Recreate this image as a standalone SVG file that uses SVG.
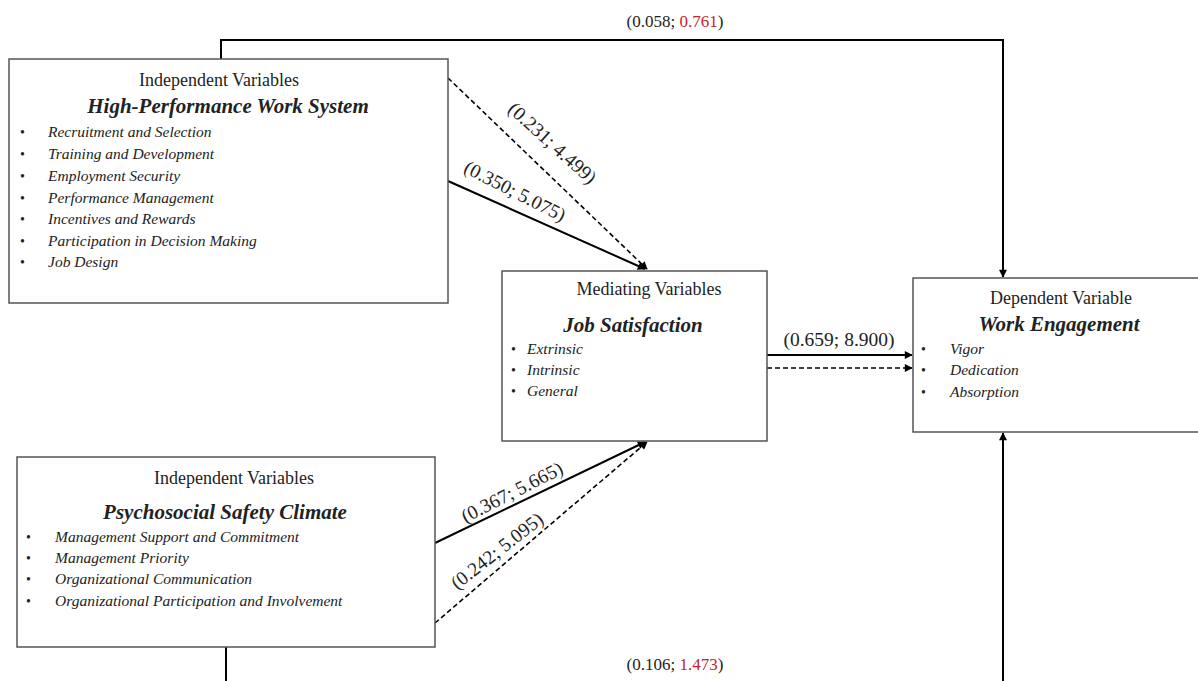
<svg xmlns="http://www.w3.org/2000/svg" width="1198" height="681" viewBox="0 0 1198 681">
<style>
.box{fill:#fff;stroke:#555;stroke-width:1.5}
text{font-family:"Liberation Serif","Times New Roman",serif;fill:#222}
.hdr{font-size:18px;text-anchor:middle}
.ttl{font-size:21px;font-weight:bold;font-style:italic;text-anchor:middle}
.it{font-size:15.5px;font-style:italic}
.its{font-size:15.5px;font-style:italic}
.b{font-style:normal;font-size:14px}
.lbl{font-size:19.5px}
.red{fill:#c0262d}
.sol{fill:none;stroke:#000;stroke-width:2}
.dash{fill:none;stroke:#000;stroke-width:1.6;stroke-dasharray:5,3}
</style>
<defs>
<marker id="ah" viewBox="0 0 10 10" refX="9" refY="5" markerWidth="9" markerHeight="8" markerUnits="userSpaceOnUse" orient="auto"><path d="M0,0 L10,5 L0,10 z" fill="#000"/></marker>
</defs>
<rect width="1198" height="681" fill="#fff"/>
<g id="connectors">
<polyline class="sol" points="221,59 221,40 1003,40 1003,277" marker-end="url(#ah)"/>
<line class="sol" x1="1003" y1="681" x2="1003" y2="433" marker-end="url(#ah)"/>
<line class="sol" x1="226" y1="647" x2="226" y2="681"/>
<line class="dash" x1="448" y1="78" x2="647" y2="269" marker-end="url(#ah)"/>
<line class="sol" x1="448" y1="181" x2="645" y2="269" marker-end="url(#ah)"/>
<line class="sol" x1="435" y1="543" x2="645" y2="442" marker-end="url(#ah)"/>
<line class="dash" x1="435" y1="623" x2="647" y2="442" marker-end="url(#ah)"/>
<line class="sol" x1="767" y1="355" x2="912" y2="355" marker-end="url(#ah)"/>
<line class="dash" x1="767" y1="368" x2="912" y2="368" marker-end="url(#ah)"/>
<text x="675" y="27" text-anchor="middle" style="font-size:17px">(0.058; <tspan class="red">0.761</tspan>)</text>
<text x="675" y="670" text-anchor="middle" style="font-size:17px">(0.106; <tspan class="red">1.473</tspan>)</text>
<text class="lbl" x="839" y="346" text-anchor="middle">(0.659; 8.900)</text>
<text class="lbl" text-anchor="middle" transform="translate(548,148) rotate(42)">(0.231; 4.499)</text>
<text class="lbl" text-anchor="middle" transform="translate(512,197) rotate(27)">(0.350; 5.075)</text>
<text class="lbl" text-anchor="middle" transform="translate(515,498) rotate(-27)">(0.367; 5.665)</text>
<text class="lbl" text-anchor="middle" transform="translate(501,556) rotate(-38)">(0.242; 5.095)</text>
</g>
<g id="hpws">
<rect class="box" x="9" y="59" width="439" height="244"/>
<text class="hdr" x="219" y="86">Independent Variables</text>
<text class="ttl" x="228" y="113">High-Performance Work System</text>
<g class="it">
<text class="b" x="20" y="137">•</text><text x="48" y="137">Recruitment and Selection</text>
<text class="b" x="20" y="159">•</text><text x="48" y="159">Training and Development</text>
<text class="b" x="20" y="181">•</text><text x="48" y="181">Employment Security</text>
<text class="b" x="20" y="203">•</text><text x="48" y="203">Performance Management</text>
<text class="b" x="20" y="224">•</text><text x="48" y="224">Incentives and Rewards</text>
<text class="b" x="20" y="246">•</text><text x="48" y="246">Participation in Decision Making</text>
<text class="b" x="20" y="267">•</text><text x="48" y="267">Job Design</text>
</g>
</g>
<g id="js">
<rect class="box" x="502" y="271" width="265" height="170"/>
<text class="hdr" x="649" y="295">Mediating Variables</text>
<text class="ttl" x="633" y="332">Job Satisfaction</text>
<g class="its">
<text class="b" x="511" y="354">•</text><text x="527" y="354">Extrinsic</text>
<text class="b" x="511" y="375">•</text><text x="527" y="375">Intrinsic</text>
<text class="b" x="511" y="396">•</text><text x="527" y="396">General</text>
</g>
</g>
<g id="we">
<rect class="box" x="913" y="278" width="290" height="154"/>
<text class="hdr" x="1061" y="304">Dependent Variable</text>
<text class="ttl" x="1059" y="331">Work Engagement</text>
<g class="its">
<text class="b" x="921" y="354">•</text><text x="950" y="354">Vigor</text>
<text class="b" x="921" y="375">•</text><text x="950" y="375">Dedication</text>
<text class="b" x="921" y="397">•</text><text x="950" y="397">Absorption</text>
</g>
</g>
<g id="psc">
<rect class="box" x="17" y="457" width="418" height="190"/>
<text class="hdr" x="234" y="484">Independent Variables</text>
<text class="ttl" x="225" y="519">Psychosocial Safety Climate</text>
<g class="its">
<text class="b" x="26" y="542">•</text><text x="55" y="542">Management Support and Commitment</text>
<text class="b" x="26" y="563">•</text><text x="55" y="563">Management Priority</text>
<text class="b" x="26" y="584">•</text><text x="55" y="584">Organizational Communication</text>
<text class="b" x="26" y="606">•</text><text x="55" y="606">Organizational Participation and Involvement</text>
</g>
</g>
</svg>
